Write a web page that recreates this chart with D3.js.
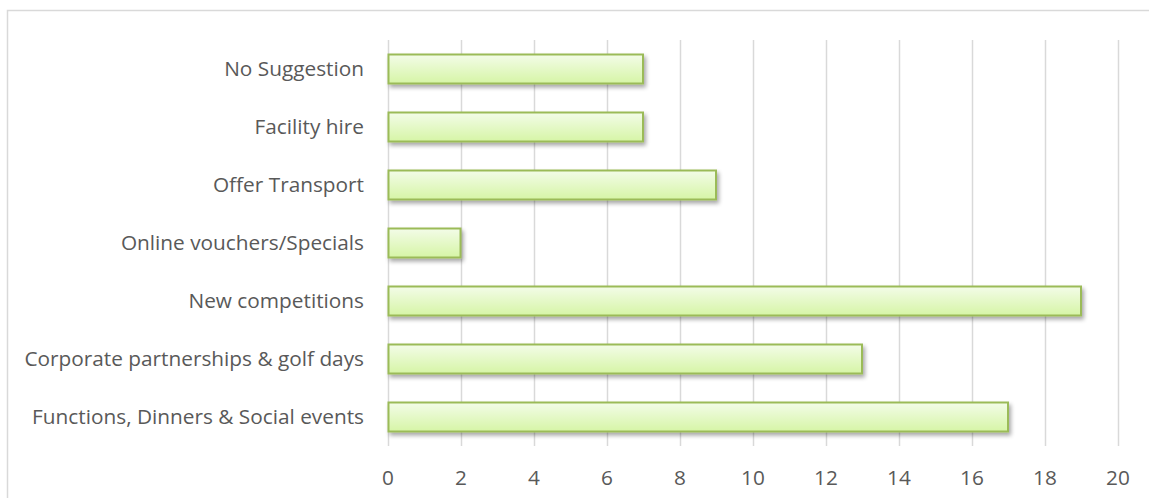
<!DOCTYPE html>
<html><head><meta charset="utf-8">
<script src="https://cdn.jsdelivr.net/npm/d3@7"></script>
<style>body{margin:0;background:#fff}svg{display:block}</style>
</head><body>
<script>
const categories = ["No Suggestion","Facility hire","Offer Transport","Online vouchers/Specials","New competitions","Corporate partnerships & golf days","Functions, Dinners & Social events"];
const values = [7,7,9,2,19,13,17];
const ticks = [0,2,4,6,8,10,12,14,16,18,20];

const W=1149,H=498;
const svg=d3.select("body").append("svg").attr("width",W).attr("height",H);
const defs=svg.append("defs");
const g1=defs.append("linearGradient").attr("id","bg").attr("x1",0).attr("y1",0).attr("x2",0).attr("y2",1);
g1.append("stop").attr("offset","0%").attr("stop-color","#f3fce8");
g1.append("stop").attr("offset","100%").attr("stop-color","#d6f5a6");
const f=defs.append("filter").attr("id","sh").attr("x","-5%").attr("y","-30%").attr("width","115%").attr("height","180%");
f.append("feGaussianBlur").attr("in","SourceAlpha").attr("stdDeviation",2);
f.append("feOffset").attr("dx",1.5).attr("dy",3).attr("result","ob");
f.append("feComponentTransfer").append("feFuncA").attr("type","linear").attr("slope",0.35);
const fm=f.append("feMerge");fm.append("feMergeNode");fm.append("feMergeNode").attr("in","SourceGraphic");

svg.append("rect").attr("x",7.5).attr("y",10.5).attr("width",1160).attr("height",520)
  .attr("fill","none").attr("stroke","#d9d9d9").attr("stroke-width",1.5);

const x=d3.scaleLinear().domain([0,20]).range([388,1118]);
const y=d3.scaleBand().domain(categories).range([40,446]).paddingInner(0.5).paddingOuter(0.25);

svg.append("g").selectAll("line").data(ticks).join("line")
  .attr("x1",d=>Math.round(x(d))+0.5).attr("x2",d=>Math.round(x(d))+0.5)
  .attr("y1",40).attr("y2",446).attr("stroke","#d9d9d9").attr("stroke-width",1.5);

svg.append("g").selectAll("rect").data(categories).join("rect")
  .attr("x",x(0)+0.5).attr("y",d=>y(d))
  .attr("width",(d,i)=>x(values[i])-x(0)-1).attr("height",y.bandwidth())
  .attr("fill","url(#bg)").attr("stroke","#9bbb59").attr("stroke-width",2)
  .attr("filter","url(#sh)");

const font="Open Sans, Lato, sans-serif";
svg.append("g").selectAll("text").data(categories).join("text")
  .attr("x",364).attr("y",d=>y(d)+y.bandwidth()/2).attr("dy","0.35em")
  .attr("text-anchor","end").attr("font-family",font).attr("font-size",20.8)
  .attr("fill","#595959").text(d=>d);

svg.append("g").selectAll("text").data(ticks).join("text")
  .attr("x",d=>x(d)).attr("y",478).attr("dy","0.35em")
  .attr("text-anchor","middle").attr("font-family",font).attr("font-size",20.8)
  .attr("fill","#595959").text(d=>d);
</script>
</body></html>
